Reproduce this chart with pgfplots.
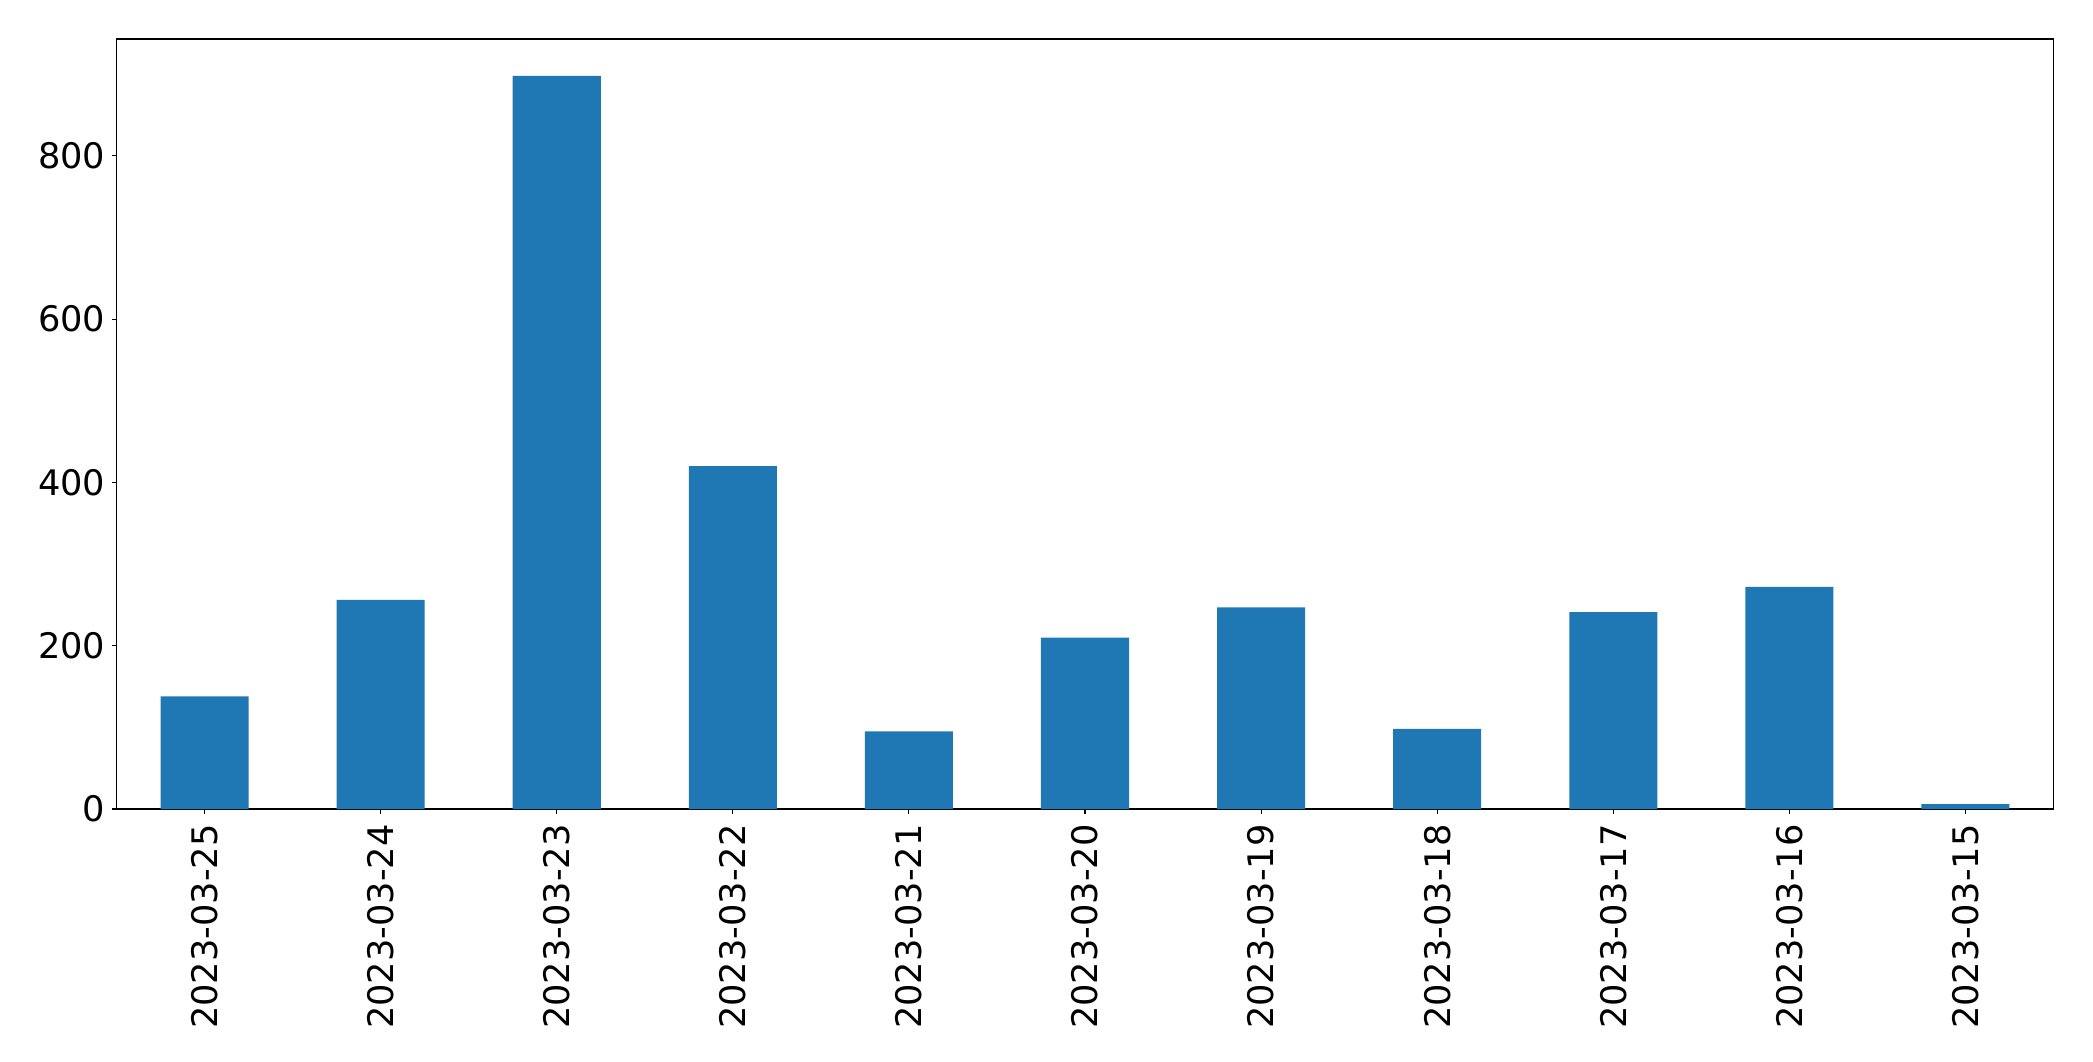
\documentclass[border=0pt]{standalone}
\usepackage{fontspec}
\setmainfont{DejaVu Sans}
\usepackage{pgfplots}
\pgfplotsset{compat=1.18}
\definecolor{mplblue}{HTML}{1F77B4}
\begin{document}
\begin{tikzpicture}
\begin{axis}[
  at={(0,0)}, anchor=south west,
  scale only axis,
  width=968.5pt, height=385pt,
  xmin=-0.5, xmax=10.5,
  ymin=0, ymax=943,
  axis line style={line width=0.55pt},
  /pgf/number format/assume math mode=true,
  tick label style={font=\fontsize{17.6}{20}\selectfont},
  xtick={0,1,2,3,4,5,6,7,8,9,10},
  xticklabels={2023-03-25,2023-03-24,2023-03-23,2023-03-22,2023-03-21,2023-03-20,2023-03-19,2023-03-18,2023-03-17,2023-03-16,2023-03-15},
  x tick label style={rotate=90, anchor=east, inner sep=0pt, yshift=0pt, xshift=-5pt},
  ytick={0,200,400,600,800},
  y tick label style={inner sep=0pt, xshift=-3pt},
  tick align=outside,
  tick pos=left,
  major tick length=2.45pt,
  tick style={line width=0.55pt, black},
  ybar,
  bar width=0.5,
]
\addplot[fill=mplblue, draw=none, bar shift=0pt] coordinates {
(0,138) (1,256) (2,898) (3,420) (4,95) (5,210) (6,247) (7,98) (8,241) (9,272) (10,6)
};
\end{axis}
\path (-58.25pt,-126pt) rectangle (988.25pt,404.5pt);
\end{tikzpicture}
\end{document}
